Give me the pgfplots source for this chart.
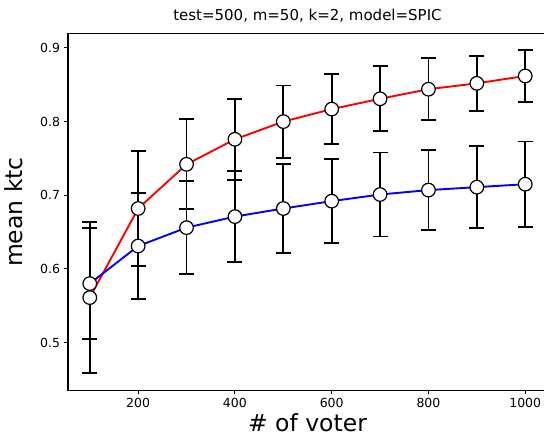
\documentclass[border=0pt]{standalone}
\usepackage{fontspec}
\setmainfont{DejaVu Sans}
\usepackage{pgfplots}
\pgfplotsset{compat=1.18}
\begin{document}
\begin{tikzpicture}
\begin{axis}[
  at={(0,0)}, anchor=origin,
  scale only axis, width=479pt, height=356pt,
  xmin=55, xmax=1045, ymin=0.4355, ymax=0.919,
  xtick={200,400,600,800,1000}, ytick={0.5,0.6,0.7,0.8,0.9},
  yticklabel style={/pgf/number format/fixed, /pgf/number format/precision=1},
  xticklabel style={/pgf/number format/set thousands separator={}},
  /pgf/number format/assume math mode=true,
  tick align=outside, tick pos=left, major tick length=4.4pt,
  every tick/.style={black, line width=1pt},
  ticklabel style={font=\fontsize{12.5}{14}\selectfont},
  title={test=500, m=50, k=2, model=SPIC},
  title style={font=\fontsize{15}{17}\selectfont, at={(axis description cs:0.5,1)}, anchor=base, yshift=7pt},
  xlabel={\# of voter}, ylabel={mean ktc},
  xlabel style={font=\fontsize{23.5}{26}\selectfont, at={(axis description cs:0.5,0)}, anchor=base, yshift=-41pt},
  ylabel style={font=\fontsize{23.5}{26}\selectfont, at={(axis description cs:-0.094,0.5)}, anchor=base},
  axis line style={line width=1pt},
  clip=false,
  error bars/error bar style={black, line width=1.9pt},
  error bars/error mark options={black, rotate=90, mark size=7.5pt, line width=1.9pt},
]
\coordinate (ll) at (rel axis cs:0,0);
\coordinate (ur) at (rel axis cs:1,1);
\addplot+[red, line width=1.9pt, mark=*, mark size=6.8pt,
  mark options={fill=white, draw=black, line width=1.2pt},
  error bars/.cd, y dir=both, y explicit]
  table[x=x, y=y, y error=e] {
x y e
100 0.561 0.103
200 0.682 0.078
300 0.742 0.061
400 0.776 0.055
500 0.800 0.049
600 0.817 0.048
700 0.831 0.044
800 0.844 0.042
900 0.852 0.037
1000 0.862 0.035
};
\addplot+[blue, line width=1.9pt, mark=*, mark size=6.8pt,
  mark options={fill=white, draw=black, line width=1.2pt},
  error bars/.cd, y dir=both, y explicit]
  table[x=x, y=y, y error=e] {
x y e
100 0.580 0.075
200 0.631 0.072
300 0.656 0.063
400 0.671 0.062
500 0.682 0.060
600 0.692 0.057
700 0.701 0.057
800 0.707 0.054
900 0.711 0.056
1000 0.715 0.058
};
\end{axis}
\pgfresetboundingbox
\path[use as bounding box] ([xshift=-68pt,yshift=-46pt]ll) rectangle ([xshift=-3pt,yshift=34pt]ur);
\end{tikzpicture}
\end{document}
